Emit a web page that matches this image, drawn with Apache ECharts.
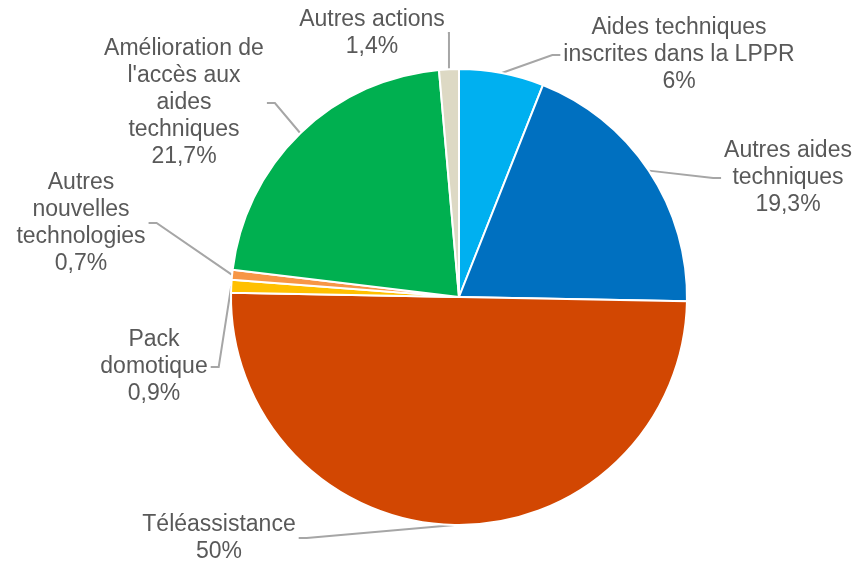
<!DOCTYPE html>
<html>
<head>
<meta charset="utf-8">
<script src="https://cdn.jsdelivr.net/npm/echarts@6/dist/echarts.min.js"></script>
<style>
  html, body { margin: 0; padding: 0; background: #fff; }
  #chart { width: 859px; height: 562px; }
</style>
</head>
<body>
<div id="chart"></div>
<script>
var categories = [
    'Aides techniques\ninscrites dans la LPPR',
    'Autres aides\ntechniques',
    'Téléassistance',
    'Pack\ndomotique',
    'Autres\nnouvelles\ntechnologies',
    'Amélioration de\nl\'accès aux\naides\ntechniques',
    'Autres actions'
];
var values = [6, 19.3, 50, 0.9, 0.7, 21.7, 1.4];
var valueLabels = ['6%', '19,3%', '50%', '0,9%', '0,7%', '21,7%', '1,4%'];
var colors = ['#00B0F0', '#0070C0', '#D24702', '#FFC000', '#F79646', '#00B050', '#DDD9C4'];

// where each label block sits (centre of the text block)
var labelCenters = [
    [679, 55], [788, 178], [219, 538], [154, 367], [81, 223], [184, 103], [372, 33]
];

var myChart = echarts.init(document.getElementById('chart'));
var option = {
    color: colors,
    animation: false,
    series: [
        {
            type: 'pie',
            startAngle: 90,
            clockwise: true,
            radius: 228,
            center: [459, 297],
            itemStyle: {
                borderColor: '#fff',
                borderWidth: 2
            },
            label: {
                show: true,
                position: 'outside',
                color: '#595959',
                fontFamily: 'Liberation Sans, Arial',
                fontSize: 23,
                lineHeight: 27,
                align: 'center',
                padding: [0, 3],
                formatter: function (p) {
                    return p.name + '\n' + valueLabels[p.dataIndex];
                }
            },
            labelLine: {
                show: true,
                length: 15,
                length2: 8,
                lineStyle: { color: '#A6A6A6', width: 2 }
            },
            labelLayout: function (params) {
                var c = labelCenters[params.dataIndex];
                return {
                    x: c[0],
                    y: c[1],
                    align: 'center',
                    verticalAlign: 'middle'
                };
            },
            data: categories.map(function (c, i) {
                return { name: c, value: values[i] };
            })
        }
    ]
};
myChart.setOption(option);
</script>
</body>
</html>
